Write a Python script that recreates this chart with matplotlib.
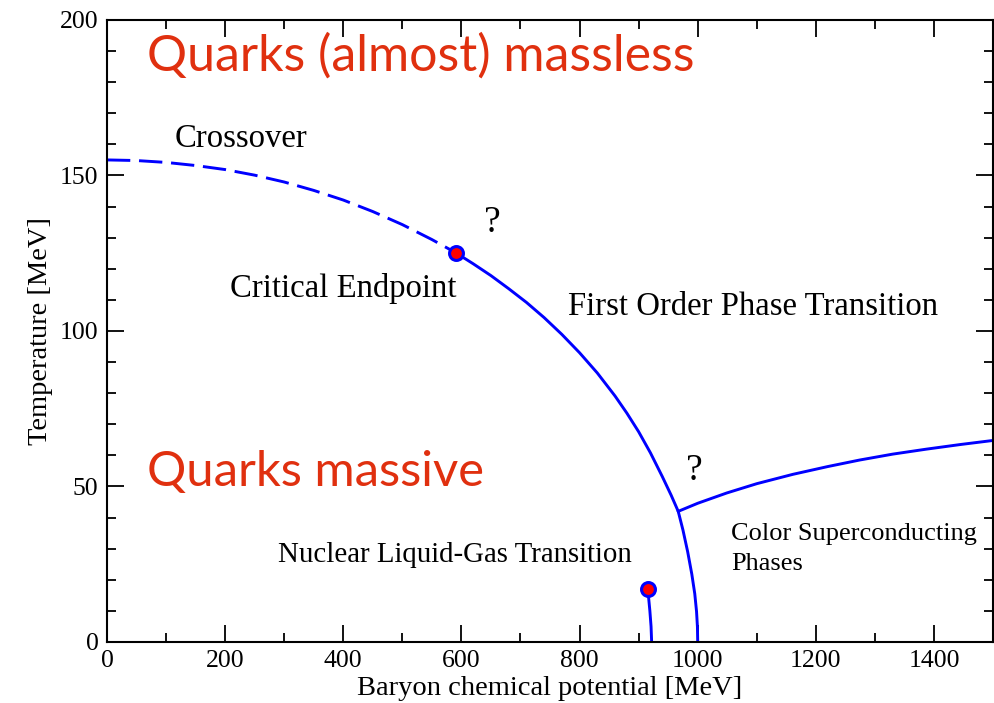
import matplotlib.pyplot as plt
from matplotlib.ticker import MultipleLocator

# phase boundary (mu in MeV, T in MeV)
mu_cross = [0, 50, 100, 150, 200, 250, 300, 350, 400, 450, 500, 550, 590]
T_cross = [155, 154.8, 154.2, 153.2, 151.9, 150.1, 147.9, 145.2, 142.1, 138.4, 134.2, 129.4, 125.2]

mu_first = [590, 620, 650, 680, 710, 740, 770, 800, 830, 860, 880, 900, 920,
            940, 955, 967, 975, 983, 990, 995, 998, 999.5, 1000]
T_first = [125.2, 121.6, 117.8, 113.6, 109.2, 104.3, 98.9, 93.0, 86.5, 79.1, 73.6, 67.6, 60.8,
           53.2, 47.2, 42.0, 36.0, 29.0, 21.8, 15.5, 9.8, 4.9, 0]

mu_csc = [967, 1000, 1049, 1100, 1161, 1220, 1274, 1330, 1387, 1445, 1500]
T_csc = [42.0, 44.6, 47.9, 50.9, 53.9, 56.4, 58.5, 60.4, 62.0, 63.5, 64.8]

mu_lg = [922, 921, 919, 917, 915]
T_lg = [0, 5, 10, 14, 17]

cep = (590, 125)
lg_end = (915, 17)

blue = '#0000ff'
red_text = '#e0300f'
serif = 'Liberation Serif'

fig = plt.figure(figsize=(9.94, 7.03), dpi=100)
ax = fig.add_axes([0.1076, 0.0868, 0.8915, 0.8848])

ax.plot(mu_cross, T_cross, color=blue, lw=2.1, ls=(0, (8, 3)))
ax.plot(mu_first, T_first, color=blue, lw=2.1)
ax.plot(mu_csc, T_csc, color=blue, lw=2.1)
ax.plot(mu_lg, T_lg, color=blue, lw=2.1)
ax.plot(*cep, 'o', ms=10, mfc='red', mec=blue, mew=2.2, zorder=5)
ax.plot(*lg_end, 'o', ms=10, mfc='red', mec=blue, mew=2.2, zorder=5)

ax.set_xlim(0, 1500)
ax.set_ylim(0, 200)
ax.xaxis.set_major_locator(MultipleLocator(200))
ax.xaxis.set_minor_locator(MultipleLocator(100))
ax.yaxis.set_major_locator(MultipleLocator(50))
ax.yaxis.set_minor_locator(MultipleLocator(10))
ax.tick_params(which='both', direction='in', top=True, right=True, width=1.3)
ax.tick_params(which='major', length=12.5, labelsize=18.5, pad=6)
ax.tick_params(which='minor', length=6.5)
for lab in ax.get_xticklabels() + ax.get_yticklabels():
    lab.set_family(serif)
for s in ax.spines.values():
    s.set_linewidth(1.5)

ax.set_xlabel('Baryon chemical potential [MeV]', family=serif, fontsize=20.5, labelpad=3)
ax.set_ylabel('Temperature [MeV]', family=serif, fontsize=20.5, labelpad=5)

ax.text(68, 183.6, 'Quarks (almost) massless', family='Lato', fontsize=36, color=red_text)
ax.text(68, 50, 'Quarks massive', family='Lato', fontsize=35.3, color=red_text)
ax.text(115, 159, 'Crossover', family=serif, fontsize=23.6)
ax.text(208, 110.8, 'Critical Endpoint', family=serif, fontsize=23.6)
ax.text(638, 131.7, '?', family=serif, fontsize=27)
ax.text(780, 105, 'First Order Phase Transition', family=serif, fontsize=23.6)
ax.text(980, 52, '?', family=serif, fontsize=27)
ax.text(289, 25.8, 'Nuclear Liquid-Gas Transition', family=serif, fontsize=20.8)
ax.text(1057, 32.8, 'Color Superconducting', family=serif, fontsize=19)
ax.text(1057, 23, 'Phases', family=serif, fontsize=19)

fig.savefig('out.png', dpi=100)
